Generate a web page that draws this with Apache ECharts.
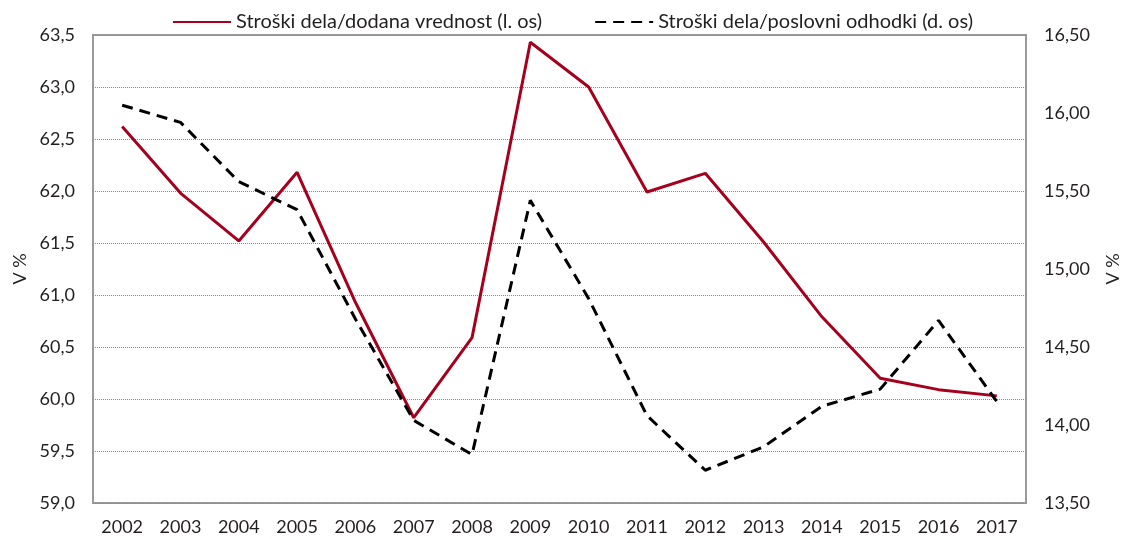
<!DOCTYPE html>
<html>
<head>
<meta charset="utf-8">
<script src="https://cdn.jsdelivr.net/npm/echarts@6/dist/echarts.min.js"></script>
<style>
  html, body { margin: 0; padding: 0; background: #fff; }
  #chart { width: 1130px; height: 539px; }
</style>
</head>
<body>
<div id="chart"></div>
<script>
// leta
var years = ['2002','2003','2004','2005','2006','2007','2008','2009','2010','2011','2012','2013','2014','2015','2016','2017'];
// Stroški dela/dodana vrednost (leva os)
var dodanaVrednost = [62.62, 61.98, 61.52, 62.18, 60.93, 59.82, 60.59, 63.43, 63.00, 61.99, 62.17, 61.51, 60.79, 60.20, 60.09, 60.03];
// Stroški dela/poslovni odhodki (desna os)
var poslovniOdhodki = [16.05, 15.94, 15.56, 15.38, 14.68, 14.03, 13.81, 15.44, 14.81, 14.06, 13.71, 13.86, 14.12, 14.23, 14.67, 14.15];
var legendNames = ['Stroški dela/dodana vrednost (l. os)', 'Stroški dela/poslovni odhodki (d. os)'];

var font = 'Lato';
var txtColor = '#231f20';

var chart = echarts.init(document.getElementById('chart'));
var option = {
    textStyle: { fontFamily: font },
    animation: false,
    legend: {
        top: 7,
        left: 167,
        itemWidth: 58,
        itemHeight: 10,
        itemGap: 52,
        itemStyle: { opacity: 0 },
        textStyle: { fontFamily: font, fontSize: 20, color: txtColor },
        data: legendNames
    },
    grid: {
        left: 93,
        right: 98,
        top: 35,
        bottom: 36,
        show: true,
        borderColor: '#9a9a9a',
        borderWidth: 2
    },
    xAxis: {
        type: 'category',
        data: years,
        axisLine: { show: false },
        axisTick: { show: false },
        axisLabel: { fontSize: 18, color: txtColor, margin: 15, fontFamily: font }
    },
    yAxis: [{
        type: 'value',
        min: 59,
        max: 63.5,
        interval: 0.5,
        name: 'V %',
        nameLocation: 'middle',
        nameRotate: 90,
        nameGap: 64,
        nameTextStyle: { fontSize: 18, color: txtColor, fontFamily: font },
        axisLine: { show: false },
        axisTick: { show: false },
        axisLabel: {
            fontSize: 18, color: txtColor, margin: 18, fontFamily: font,
            formatter: function (v) { return v.toFixed(1).replace('.', ','); }
        },
        splitLine: { lineStyle: { color: '#8a8a8a', type: 'dotted', width: 1 } }
    }, {
        type: 'value',
        min: 13.5,
        max: 16.5,
        interval: 0.5,
        name: 'V %',
        nameLocation: 'middle',
        nameRotate: 90,
        nameGap: 78,
        nameTextStyle: { fontSize: 18, color: txtColor, fontFamily: font },
        axisLine: { show: false },
        axisTick: { show: false },
        axisLabel: {
            fontSize: 18, color: txtColor, margin: 18, fontFamily: font,
            formatter: function (v) { return v.toFixed(2).replace('.', ','); }
        },
        splitLine: { show: false }
    }],
    series: [{
        name: legendNames[0],
        type: 'line',
        yAxisIndex: 0,
        symbol: 'none',
        data: dodanaVrednost,
        lineStyle: { color: '#a5001e', width: 3 },
        itemStyle: { color: '#a5001e' }
    }, {
        name: legendNames[1],
        type: 'line',
        yAxisIndex: 1,
        symbol: 'none',
        data: poslovniOdhodki,
        lineStyle: { color: '#000', width: 3, type: [11, 7] },
        itemStyle: { color: '#000' }
    }]
};
chart.setOption(option);
</script>
</body>
</html>
